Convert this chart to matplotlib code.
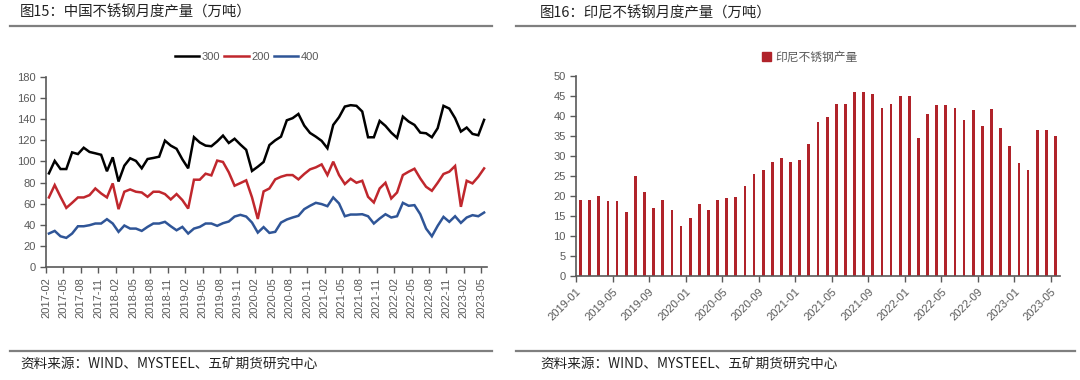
import numpy as np
import pandas as pd
import matplotlib
matplotlib.use("Agg")
import matplotlib.pyplot as plt
from matplotlib.lines import Line2D
from matplotlib.patches import Patch

plt.rcParams['font.family'] = ['Liberation Sans', 'Noto Sans CJK SC', 'DejaVu Sans']

# ---- data: China stainless output by series (万吨), 2017-02 .. 2023-05
china_months = pd.period_range('2017-02', '2023-05', freq='M').strftime('%Y-%m').tolist()
s300 = [88.7, 100.5, 92.8, 92.8, 108.6, 107.0, 113.0, 109.0, 107.7, 106.3, 90.7, 103.9, 81.0,
        96.0, 103.0, 100.5, 93.5, 102.3, 103.3, 104.5, 119.7, 115.0, 112.0, 102.0, 93.5,
        123.0, 118.0, 115.0, 114.4, 119.0, 124.5, 117.5, 121.5, 116.0, 111.0, 91.0,
        95.0, 99.5, 115.5, 120.0, 123.5, 139.0, 141.0, 145.0, 134.0, 127.0, 123.5, 119.5, 112.5,
        134.6, 141.9, 152.0, 153.3, 152.7, 147.3, 122.9, 122.9, 138.4, 133.7, 127.3, 122.3,
        142.5, 137.8, 134.6, 127.3, 126.7, 122.9, 131.5, 152.7, 150.1, 141.0, 128.3, 132.1,
        126.1, 124.8, 139.4]
s200 = [65.9, 77.6, 66.5, 56.0, 60.8, 65.9, 65.9, 68.1, 74.4, 69.7, 65.9, 79.2, 54.8,
        71.3, 73.5, 71.3, 70.6, 66.5, 71.3, 71.3, 69.1, 64.0, 69.1, 63.4, 55.4,
        82.7, 82.7, 88.4, 86.8, 100.8, 99.5, 89.7, 77.0, 79.5, 82.1, 66.0, 45.5, 71.6,
        74.4, 83.0, 85.5, 87.1, 87.1, 83.0, 88.1, 92.5, 94.4, 97.2, 87.1, 99.8, 87.1,
        78.6, 83.6, 79.8, 81.7, 66.5, 61.1, 74.4, 79.8, 64.9, 70.6, 87.1, 90.3, 93.1,
        83.9, 76.0, 72.2, 79.8, 88.1, 90.3, 95.7, 57.0, 81.7, 79.2, 85.5, 93.4]
s400 = [31.7, 34.2, 29.1, 27.6, 31.7, 38.6, 38.6, 39.6, 41.2, 41.2, 45.3, 41.2, 33.3,
        39.3, 36.4, 36.4, 34.2, 38.0, 41.2, 41.2, 42.8, 38.6, 34.8, 38.0, 31.7,
        36.4, 38.0, 41.2, 41.2, 39.0, 41.5, 43.1, 47.8, 49.4, 47.8, 42.1, 32.6, 37.8,
        32.3, 33.3, 42.1, 45.0, 46.9, 48.5, 54.8, 58.0, 60.8, 59.6, 57.6, 65.9, 60.2,
        48.1, 49.7, 49.7, 50.0, 48.1, 41.2, 45.9, 50.0, 46.9, 48.1, 60.8, 58.0, 58.6,
        50.0, 36.4, 29.1, 39.0, 47.5, 42.8, 48.1, 41.8, 46.9, 49.1, 48.1, 51.6]
series_names = ['300', '200', '400']
series_colors = ['#000000', '#C0272D', '#2F5597']

# ---- data: Indonesia stainless output (万吨), 2019-01 .. 2023-05
indo_months = pd.period_range('2019-01', '2023-05', freq='M').strftime('%Y-%m').tolist()
indo_output = [19.0, 19.0, 20.0, 18.7, 18.7, 15.9, 24.9, 21.1, 16.9, 19.0, 16.4, 12.6,
               14.5, 18.1, 16.4, 19.0, 19.5, 19.7, 22.5, 25.4, 26.4, 28.5, 29.6, 28.5,
               29.0, 32.9, 38.6, 39.8, 42.9, 42.9, 45.9, 45.9, 45.5, 41.9, 42.9, 45.1,
               45.1, 34.4, 40.6, 42.7, 42.7, 41.9, 39.1, 41.4, 37.4, 41.7, 36.9, 32.4,
               28.2, 26.4, 36.5, 36.5, 34.9]
indo_name = '印尼不锈钢产量'
bar_color = '#B0232A'

titles = ['图15：中国不锈钢月度产量（万吨）', '图16：印尼不锈钢月度产量（万吨）']
source = '资料来源：WIND、MYSTEEL、五矿期货研究中心'

W, H = 1080, 380
fig = plt.figure(figsize=(W / 100, H / 100), dpi=100)
axis_gray = '#595959'
label_gray = '#595959'
cjk = ['Noto Sans CJK SC', 'DejaVu Sans']


def fx(px):
    return px / W


def fy(py):
    return 1 - py / H


def style_axes(ax):
    for s in ['top', 'right']:
        ax.spines[s].set_visible(False)
    for s in ['left', 'bottom']:
        ax.spines[s].set_color(axis_gray)
        ax.spines[s].set_linewidth(1.2)
    ax.tick_params(axis='both', colors=axis_gray, labelcolor=label_gray,
                   labelsize=8, length=4, width=1.0, direction='out')


# ---- panel frames: title, rules, source
for x0, x1, tx, title in [(10, 492, 20, titles[0]), (516, 1075, 540, titles[1])]:
    fig.text(fx(tx), fy(13), title, family=cjk, fontsize=10.4, color='#222222', va='center')
    fig.add_artist(Line2D([fx(x0), fx(x1)], [fy(26), fy(26)], color='#7f7f7f', lw=1.6))
    fig.add_artist(Line2D([fx(x0), fx(x1)], [fy(351), fy(351)], color='#7f7f7f', lw=1.6))
    fig.text(fx(tx), fy(365), source, family=cjk, fontsize=9.8, color='#222222', va='center')

# ---- left chart
ax1 = fig.add_axes([fx(46), fy(267), fx(487 - 46), (267 - 77) / H])
x = np.arange(len(china_months))
for vals, name, col in zip([s300, s200, s400], series_names, series_colors):
    ax1.plot(x, vals, color=col, lw=1.8, label=name, solid_joinstyle='miter')
ax1.set_xlim(-0.5, len(china_months) - 0.5)
ax1.set_ylim(0, 180)
ax1.set_yticks(np.arange(0, 181, 20))
tick_idx = np.arange(0, len(china_months), 3)
ax1.set_xticks(tick_idx - 0.5)
ax1.set_xticklabels([china_months[i] for i in tick_idx], rotation=90)
style_axes(ax1)
handles = [Line2D([], [], color=c, lw=1.8) for c in series_colors]
fig.legend(handles, series_names, loc='center', bbox_to_anchor=(fx(247), fy(57)), ncol=3,
           frameon=False, fontsize=8, handlelength=2.2, handletextpad=0.25, columnspacing=0.35,
           labelcolor=label_gray)

# ---- right chart
ax2 = fig.add_axes([fx(576), fy(276), fx(1060 - 576), (276 - 76) / H])
xb = np.arange(len(indo_months))
ax2.bar(xb, indo_output, width=0.3, color=bar_color)
ax2.set_xlim(-0.5, len(indo_months) - 0.5)
ax2.set_ylim(0, 50)
ax2.set_yticks(np.arange(0, 51, 5))
tick_idx2 = np.arange(0, len(indo_months), 4)
ax2.set_xticks(tick_idx2 - 0.5)
ax2.set_xticklabels([indo_months[i] for i in tick_idx2], rotation=45, ha='right',
                    rotation_mode='anchor')
style_axes(ax2)
fig.legend([Patch(color=bar_color)], [indo_name], loc='center', bbox_to_anchor=(fx(810), fy(57)),
           frameon=False, handlelength=0.7, handleheight=0.7, handletextpad=0.4,
           prop={'family': cjk, 'size': 8.5}, labelcolor=label_gray)

fig.savefig('out.png', dpi=100)
